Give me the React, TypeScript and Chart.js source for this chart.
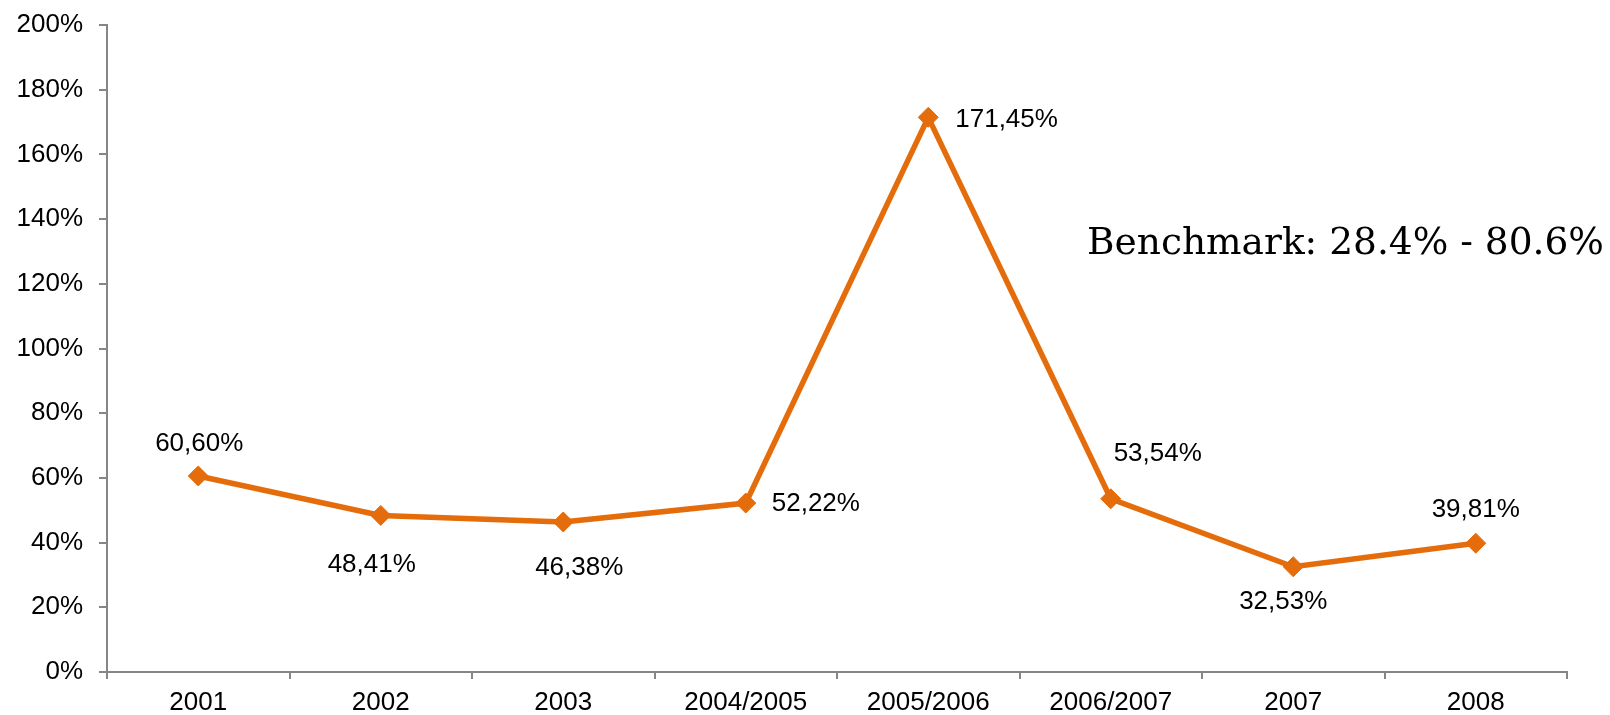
import React, { useEffect, useRef } from "react";
import { Chart, registerables } from "chart.js";

Chart.register(...registerables);

const categories = ["2001", "2002", "2003", "2004/2005", "2005/2006", "2006/2007", "2007", "2008"];
const values = [60.6, 48.41, 46.38, 52.22, 171.45, 53.54, 32.53, 39.81];
const valueLabels = ["60,60%", "48,41%", "46,38%", "52,22%", "171,45%", "53,54%", "32,53%", "39,81%"];
const yTicks = [0, 20, 40, 60, 80, 100, 120, 140, 160, 180, 200];
const benchmarkText = "Benchmark: 28.4% - 80.6%";

// label placement (style): [dx, dy, align]
const labelPlacement: [number, number, CanvasTextAlign][] = [
  [1, -32, "center"],
  [-9, 49, "center"],
  [16, 46, "center"],
  [26, 1, "left"],
  [27, 2, "left"],
  [47, -45, "center"],
  [-10, 35, "center"],
  [0, -33, "center"],
];

const ORANGE = "#E46C0A";
const AXIS = "#868686";
const FONT = "'Liberation Sans', Arial, sans-serif";
const FS = 26;

export default function App() {
  const ref = useRef<HTMLCanvasElement | null>(null);
  useEffect(() => {
    document.body.style.margin = "0";
    document.body.style.overflow = "hidden";
    const canvas = ref.current!;
    const labelsPlugin = {
      id: "valueLabels",
      afterDatasetsDraw(chart: any) {
        const ctx = chart.ctx;
        const meta = chart.getDatasetMeta(0);
        ctx.save();
        ctx.font = `${FS}px ${FONT}`;
        ctx.fillStyle = "#000";
        ctx.textBaseline = "middle";
        meta.data.forEach((pt: any, i: number) => {
          const [dx, dy, align] = labelPlacement[i];
          ctx.textAlign = align;
          ctx.fillText(valueLabels[i], pt.x + dx, pt.y + dy);
        });
        ctx.restore();
      },
      afterDraw(chart: any) {
        const ctx = chart.ctx;
        ctx.save();
        ctx.font = `37.5px 'DejaVu Serif', Georgia, serif`;
        ctx.fillStyle = "#000";
        ctx.textAlign = "left";
        ctx.textBaseline = "alphabetic";
        ctx.fillText(benchmarkText, 1087, 254);
        ctx.restore();
      },
    };
    const chart = new Chart(canvas, {
      type: "line",
      data: {
        labels: categories,
        datasets: [
          {
            data: values,
            borderColor: ORANGE,
            backgroundColor: ORANGE,
            borderWidth: 5.5,
            pointStyle: "rectRot",
            pointRadius: 10,
            pointBorderWidth: 1,
            pointBackgroundColor: ORANGE,
            pointBorderColor: ORANGE,
            tension: 0,
          },
        ],
      },
      options: {
        animation: false,
        responsive: false,
        maintainAspectRatio: false,
        layout: { padding: { top: 25, right: 43, bottom: 0, left: 0 } },
        plugins: { legend: { display: false }, tooltip: { enabled: false } },
        scales: {
          x: {
            offset: true,
            grid: {
              offset: true,
              drawOnChartArea: false,
              drawTicks: true,
              tickLength: 7,
              color: AXIS,
              lineWidth: 2,
            },
            border: { color: AXIS, width: 2 },
            ticks: {
              color: "#000",
              font: { family: FONT, size: FS },
              padding: 8,
              maxRotation: 0,
              autoSkip: false,
            },
            afterFit(scale: any) {
              scale.height = 43;
              scale.paddingLeft = 0;
              scale.paddingRight = 0;
            },
          },
          y: {
            min: 0,
            max: 200,
            afterBuildTicks(scale: any) {
              scale.ticks = yTicks.map((v) => ({ value: v }));
            },
            grid: {
              drawOnChartArea: false,
              drawTicks: true,
              tickLength: 8,
              color: AXIS,
              lineWidth: 2,
            },
            border: { color: AXIS, width: 2 },
            ticks: {
              color: "#000",
              font: { family: FONT, size: FS },
              padding: 16,
              callback: (v: any) => `${v}%`,
            },
            afterFit(scale: any) {
              scale.width = 107;
              scale.paddingTop = 0;
              scale.paddingBottom = 0;
            },
          },
        },
      },
      plugins: [labelsPlugin],
    });
    return () => chart.destroy();
  }, []);
  return (
    <div style={{ width: 1610, height: 715 }}>
      <canvas ref={ref} width={1610} height={715} style={{ display: "block", width: 1610, height: 715 }} />
    </div>
  );
}
